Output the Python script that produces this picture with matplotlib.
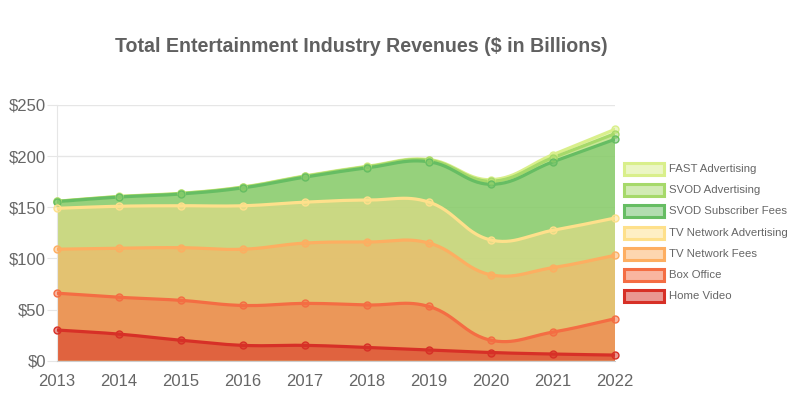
import matplotlib.pyplot as plt
from matplotlib.patches import Rectangle
from matplotlib.colors import to_rgba
import numpy as np

plt.rcParams['font.family'] = ['Liberation Sans', 'DejaVu Sans']

# data ($ in billions)
years = [2013, 2014, 2015, 2016, 2017, 2018, 2019, 2020, 2021, 2022]
home_video = [30, 26, 20, 15, 15, 13, 10.5, 8, 6.5, 5.5]
box_office = [36, 36, 39, 39, 41, 41.5, 42.5, 12, 21.5, 35.5]
tv_fees = [43, 48, 51.5, 55, 59, 61.5, 62, 64, 63, 62]
tv_adv = [40, 41, 41, 42.5, 40, 41, 40, 34, 36.5, 36.5]
svod_fees = [6.5, 9, 11.5, 17.5, 24.5, 31.5, 39.5, 54.5, 67, 77]
svod_adv = [0.3, 0.4, 0.5, 0.6, 0.8, 1.0, 1.5, 3.0, 4.0, 5.5]
fast_adv = [0.1, 0.2, 0.2, 0.3, 0.4, 0.5, 0.7, 1.5, 3.0, 4.2]

labels = ['Home Video', 'Box Office', 'TV Network Fees', 'TV Network Advertising',
          'SVOD Subscriber Fees', 'SVOD Advertising', 'FAST Advertising']
series = [home_video, box_office, tv_fees, tv_adv, svod_fees, svod_adv, fast_adv]
colors = ['#d73027', '#f46d43', '#fdae61', '#fee08b', '#66bd63', '#a6d96a', '#d9ef8b']

W, H = 800, 400
fig = plt.figure(figsize=(8, 4), dpi=100)
ax_l, ax_r, ax_b, ax_t = 57, 615, 360.7, 105
ax = fig.add_axes([ax_l / W, 1 - ax_b / H, (ax_r - ax_l) / W, (ax_b - ax_t) / H])
ax.set_xlim(years[0], years[-1])
ax.set_ylim(0, 250)

# pixel scale, used for the spline control points (Chart.js style, tension 0.4)
sx = (ax_r - ax_l) / (years[-1] - years[0])
sy = (ax_b - ax_t) / 250.0


def smooth(xs, ys, tension=0.4, n=30):
    px = np.array(xs, float) * sx
    py = np.array(ys, float) * sy
    m = len(px)
    c1, c2 = [], []
    for i in range(m):
        pp = (px[max(i - 1, 0)], py[max(i - 1, 0)])
        nn = (px[min(i + 1, m - 1)], py[min(i + 1, m - 1)])
        d01 = np.hypot(px[i] - pp[0], py[i] - pp[1])
        d12 = np.hypot(nn[0] - px[i], nn[1] - py[i])
        tot = d01 + d12
        s01 = d01 / tot if tot else 0
        s12 = d12 / tot if tot else 0
        fa, fb = tension * s01, tension * s12
        c1.append((px[i] - fa * (nn[0] - pp[0]), py[i] - fa * (nn[1] - pp[1])))
        c2.append((px[i] + fb * (nn[0] - pp[0]), py[i] + fb * (nn[1] - pp[1])))
    lo_x, hi_x = px[0], px[-1]
    lo_y, hi_y = 0, 250 * sy
    cx = lambda v: min(max(v, lo_x), hi_x)
    cy = lambda v: min(max(v, lo_y), hi_y)
    outx, outy = [], []
    t = np.linspace(0, 1, n)
    for i in range(m - 1):
        p0 = np.array([px[i], py[i]])
        p1 = np.array([cx(c2[i][0]), cy(c2[i][1])])
        p2 = np.array([cx(c1[i + 1][0]), cy(c1[i + 1][1])])
        p3 = np.array([px[i + 1], py[i + 1]])
        b = ((1 - t) ** 3)[:, None] * p0 + (3 * (1 - t) ** 2 * t)[:, None] * p1 \
            + (3 * (1 - t) * t ** 2)[:, None] * p2 + (t ** 3)[:, None] * p3
        outx.extend(b[:, 0])
        outy.extend(b[:, 1])
    return np.array(outx) / sx, np.array(outy) / sy


tops = np.cumsum(np.array(series, float), axis=0)

# fills: top series first, each down to zero, half transparent
for k in range(len(series) - 1, -1, -1):
    xs, ys = smooth(years, tops[k])
    ax.fill(np.r_[xs, xs[-1], xs[0]], np.r_[ys, 0, 0],
            color=to_rgba(colors[k], 0.5), lw=0, zorder=2 + (6 - k) * 0.01)

for k in range(len(series) - 1, -1, -1):
    xs, ys = smooth(years, tops[k])
    ax.plot(xs, ys, color=colors[k], lw=2.3, zorder=3, solid_capstyle='round')
    ax.plot(years, tops[k], 'o', ms=5, mfc=to_rgba(colors[k], 0.5),
            mec=colors[k], mew=1.0, zorder=4, clip_on=False)

# axes styling
ax.set_yticks(range(0, 251, 50))
ax.set_yticklabels(['$%d' % v for v in range(0, 251, 50)])
ax.set_xticks(years)
ax.set_xticklabels([str(y) for y in years])
ax.grid(axis='y', color='#e6e6e6', lw=1, zorder=0)
ax.tick_params(axis='y', length=7, color='#e6e6e6', labelsize=12, labelcolor='#666666', pad=1)
ax.tick_params(axis='x', length=0, labelsize=12, labelcolor='#666666', pad=9.5)
for s in ['top', 'right']:
    ax.spines[s].set_visible(False)
ax.spines['left'].set_color('#e6e6e6')
ax.spines['bottom'].set_color('#cccccc')
ax.set_axisbelow(True)

fig.text(361 / W, 1 - 47 / H, 'Total Entertainment Industry Revenues ($ in Billions)',
         ha='center', va='center', fontsize=14.1, fontweight='bold', color='#606060')

# legend drawn by hand, top entry first
leg_y0 = 169
for j, k in enumerate(range(len(series) - 1, -1, -1)):
    yc = leg_y0 + j * 21.2
    fig.add_artist(Rectangle((624 / W, 1 - (yc + 6) / H), 40 / W, 12 / H,
                             transform=fig.transFigure, facecolor=to_rgba(colors[k], 0.5),
                             edgecolor=colors[k], lw=2.2))
    fig.text(669 / W, 1 - yc / H, labels[k], ha='left', va='center',
             fontsize=8.2, color='#666666')

fig.savefig('out.png', dpi=100, facecolor='white')
